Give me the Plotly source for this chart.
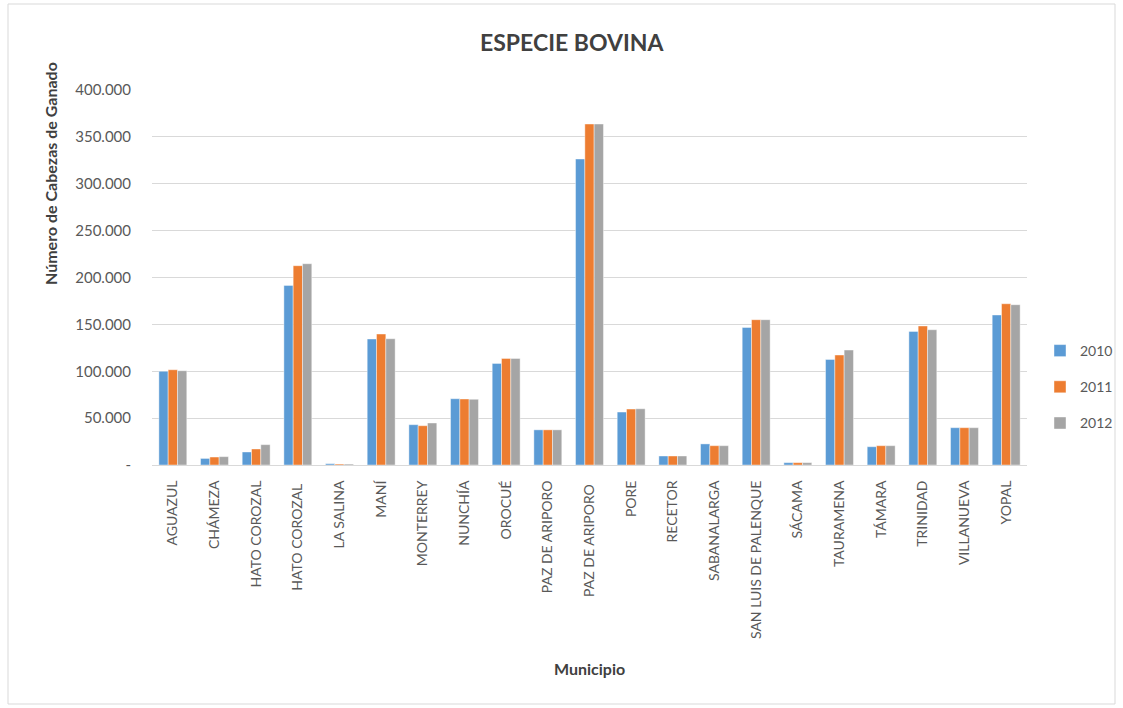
import plotly.graph_objects as go

municipios = ["AGUAZUL", "CHÁMEZA", "HATO COROZAL", "HATO COROZAL ", "LA SALINA", "MANÍ",
              "MONTERREY", "NUNCHÍA", "OROCUÉ", "PAZ DE ARIPORO", "PAZ DE ARIPORO ", "PORE",
              "RECETOR", "SABANALARGA", "SAN LUIS DE PALENQUE", "SÁCAMA", "TAURAMENA",
              "TÁMARA", "TRINIDAD", "VILLANUEVA", "YOPAL"]

v2010 = [100000, 7000, 13900, 191600, 1400, 134400, 43000, 70700, 108400, 37500, 326400, 56500,
         9600, 22500, 146700, 2500, 112600, 19500, 142500, 39800, 160000]
v2011 = [101600, 8500, 17100, 212600, 1000, 139700, 41900, 70400, 113700, 37500, 363700, 59700,
         9600, 20600, 155000, 2500, 117300, 20600, 148300, 39800, 172000]
v2012 = [100600, 8900, 21700, 214700, 1000, 134700, 44800, 70100, 113700, 37500, 363700, 60000,
         9600, 20600, 155000, 2500, 122600, 20600, 144300, 39800, 171000]

series_names = ["2010", "2011", "2012"]
colors = ["#5B9BD5", "#ED7D31", "#A5A5A5"]

tick_vals = [0, 50000, 100000, 150000, 200000, 250000, 300000, 350000, 400000]
tick_text = ["-", "50.000", "100.000", "150.000", "200.000", "250.000", "300.000", "350.000", "400.000"]

FONT = "Lato, 'Open Sans', sans-serif"

# plot area in pixels
L, R, T, B = 152, 1027, 90, 465
W, H = R - L, B - T


def px(x):
    return (x - L) / W


def py(y):
    return (B - y) / H


fig = go.Figure()
for name, vals, col in zip(series_names, [v2010, v2011, v2012], colors):
    fig.add_trace(go.Bar(
        x=municipios, y=vals, name=name, legendgroup=name,
        marker=dict(color=col, line=dict(color="rgba(255,255,255,0.6)", width=0.7)),
    ))

fig.update_layout(
    width=1123, height=708,
    paper_bgcolor="white", plot_bgcolor="white",
    margin=dict(l=L, r=1123 - R, t=T, b=708 - B, autoexpand=False),
    barmode="group", bargap=0.33, bargroupgap=0,
    font=dict(family=FONT, color="#595959", size=14),
    legend=dict(x=px(1040), xanchor="left", y=py(387), yanchor="middle",
                font=dict(size=14, color="#595959"), tracegroupgap=15,
                itemwidth=30, bgcolor="rgba(0,0,0,0)"),
    showlegend=True,
)

fig.add_annotation(text="<b>ESPECIE BOVINA</b>", xref="paper", yref="paper",
                   x=px(572), y=py(42), xanchor="center", yanchor="middle", showarrow=False,
                   font=dict(size=23, color="#404040", family=FONT))
fig.add_annotation(text="<b>Número de Cabezas de Ganado</b>", xref="paper", yref="paper",
                   x=px(50), y=py(174), xanchor="center", yanchor="middle", showarrow=False,
                   textangle=-90, font=dict(size=16, color="#404040", family=FONT))
fig.add_annotation(text="<b>Municipio</b>", xref="paper", yref="paper",
                   x=px(589), y=py(668), xanchor="center", yanchor="middle", showarrow=False,
                   font=dict(size=16, color="#404040", family=FONT))

fig.update_xaxes(
    tickangle=-90, showgrid=False, showline=True, linecolor="#D9D9D9", linewidth=1,
    ticks="outside", ticklen=9, tickcolor="rgba(0,0,0,0)",
    tickfont=dict(size=14, color="#595959"),
)
fig.update_yaxes(
    range=[0, 400000], tickvals=tick_vals, ticktext=tick_text,
    showgrid=True, gridcolor="#D9D9D9", gridwidth=1, zeroline=False,
    showline=False, ticks="outside", ticklen=17, tickcolor="rgba(0,0,0,0)",
    tickfont=dict(size=15, color="#595959"),
)

fig.add_shape(type="rect", xref="paper", yref="paper",
              x0=px(8), x1=px(1115), y0=py(704), y1=py(4),
              line=dict(color="#D9D9D9", width=1), fillcolor="rgba(0,0,0,0)", layer="below")

fig.write_html("out.html", config={"displayModeBar": False},
               post_script="document.body.style.margin='0';")
